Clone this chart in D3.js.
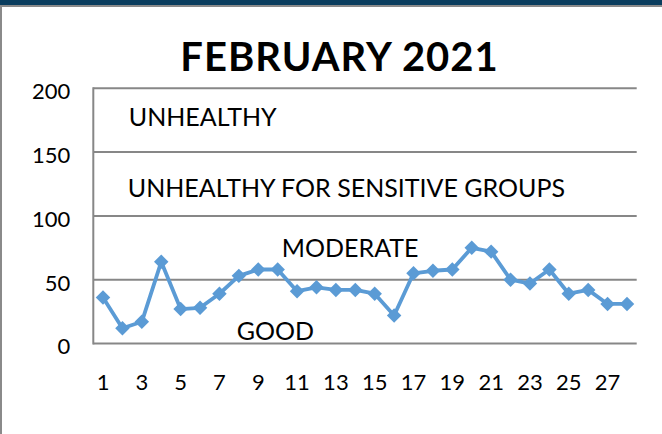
<!DOCTYPE html>
<html>
<head>
<meta charset="utf-8">
<script src="https://cdnjs.cloudflare.com/ajax/libs/d3/7.8.5/d3.min.js"></script>
<style>
  html, body { margin: 0; padding: 0; background: #fff; }
  svg { display: block; }
  text { font-family: Lato, "Open Sans", sans-serif; fill: #000; }
</style>
</head>
<body>
<svg id="grafico" width="662" height="434"></svg>
<script>
// dados
var dias = d3.range(1, 29);
var aqi = [36, 12, 17, 64, 27, 28, 39, 53, 58, 58, 41, 44, 42, 42, 39, 22,
           55, 57, 58, 75, 72, 50, 47, 58, 39, 42, 31, 31];
var ticksY = [0, 50, 100, 150, 200];
var ticksX = [1, 3, 5, 7, 9, 11, 13, 15, 17, 19, 21, 23, 25, 27];
var zonas = ["UNHEALTHY", "UNHEALTHY FOR SENSITIVE GROUPS", "MODERATE", "GOOD"];
var titulo = "FEBRUARY 2021";

var svg = d3.select("#grafico");
var W = 662, H = 434;
var margin = {top: 88.3, right: 25.3, bottom: 90.5, left: 93.3};
var width = W - margin.left - margin.right;
var height = H - margin.top - margin.bottom;

// moldura
svg.append("rect").attr("x", 0).attr("y", 0).attr("width", W).attr("height", 5).attr("fill", "#0a3d5e");
svg.append("rect").attr("x", 0).attr("y", 5).attr("width", W).attr("height", 2).attr("fill", "#8a8a8a");
svg.append("rect").attr("x", 0).attr("y", 5).attr("width", 2).attr("height", H - 5).attr("fill", "#8a8a8a");

// titulo
svg.append("text")
    .attr("x", 339.5).attr("y", 70.5)
    .attr("text-anchor", "middle")
    .style("font-weight", "bold")
    .style("font-size", "40px")
    .style("letter-spacing", "1px")
    .text(titulo);

var g = svg.append("g")
    .attr("transform", "translate(" + margin.left + "," + margin.top + ")");

var x = d3.scaleBand().domain(dias).range([0, width]).padding(0);
var y = d3.scaleLinear().domain([0, 200]).range([height, 0]);
var cx = function(d){ return x(d) + x.bandwidth() / 2; };

// linhas de grade
g.selectAll(".grade").data(ticksY).enter().append("line")
    .attr("class", "grade")
    .attr("x1", 0).attr("x2", width)
    .attr("y1", function(d){ return y(d); })
    .attr("y2", function(d){ return y(d); })
    .attr("stroke", "#878787").attr("stroke-width", 2);
g.append("line")
    .attr("x1", 0).attr("x2", 0).attr("y1", y(200) - 1).attr("y2", y(0) + 1)
    .attr("stroke", "#878787").attr("stroke-width", 2);

// eixo Y
var eixoY = g.append("g")
    .call(d3.axisLeft(y).tickValues(ticksY).tickSize(0).tickPadding(23));
eixoY.select(".domain").remove();
eixoY.selectAll("text").style("font-size", "22px").attr("dy", "0.47em")
    .style("font-family", "Lato, sans-serif").attr("fill", "#000");

// eixo X
var eixoX = g.append("g")
    .attr("transform", "translate(0," + height + ")")
    .call(d3.axisBottom(x).tickValues(ticksX).tickSize(0).tickPadding(31));
eixoX.select(".domain").remove();
eixoX.selectAll("text").style("font-size", "22px")
    .style("font-family", "Lato, sans-serif").attr("fill", "#000");

// rotulos das zonas
var posZona = [
    {dx: 35.5, v: 170.5},
    {dx: 34.5, v: 114.5},
    {dx: 188.5, v: 68},
    {dx: 143.5, v: 2.5}
];
g.selectAll(".zona").data(zonas).enter().append("text")
    .attr("class", "zona")
    .attr("x", function(d, i){ return posZona[i].dx; })
    .attr("y", function(d, i){ return y(posZona[i].v); })
    .style("font-size", "25px")
    .text(function(d){ return d; });

// serie
var linha = d3.line()
    .x(function(d, i){ return cx(dias[i]); })
    .y(function(d){ return y(d); });
g.append("path")
    .datum(aqi)
    .attr("d", linha)
    .attr("fill", "none")
    .attr("stroke", "#5b9bd5")
    .attr("stroke-width", 3.8)
    .attr("stroke-linejoin", "round");

var simbolo = d3.symbol().type(d3.symbolSquare).size(105);
g.selectAll(".marca").data(aqi).enter().append("path")
    .attr("class", "marca")
    .attr("d", simbolo)
    .attr("transform", function(d, i){ return "translate(" + cx(dias[i]) + "," + y(d) + ") rotate(45)"; })
    .attr("fill", "#5b9bd5");
</script>
</body>
</html>
